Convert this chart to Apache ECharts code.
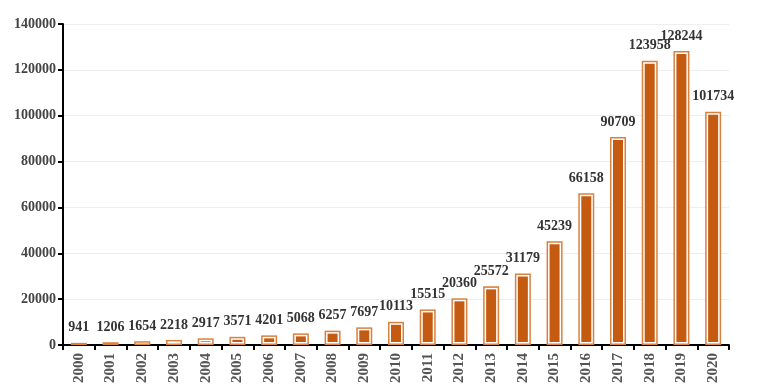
<!DOCTYPE html>
<html><head><meta charset="utf-8">
<script src="https://cdn.jsdelivr.net/npm/echarts@6/dist/echarts.min.js"></script>
<style>html,body{margin:0;padding:0;background:#fff}#c{width:775px;height:391px}</style>
</head><body><div id="c"></div>
<script>
var years = ['2000','2001','2002','2003','2004','2005','2006','2007','2008','2009','2010','2011','2012','2013','2014','2015','2016','2017','2018','2019','2020'];
var counts = [941,1206,1654,2218,2917,3571,4201,5068,6257,7697,10113,15515,20360,25572,31179,45239,66158,90709,123958,128244,101734];
var yTicks = [0,20000,40000,60000,80000,100000,120000,140000];

var chart = echarts.init(document.getElementById('c'));
var font = '"Liberation Serif","Times New Roman",serif';
chart.setOption({
  animation: false,
  grid: {left: 63, right: 46, top: 24, bottom: 46},
  xAxis: {
    type: 'category', data: years,
    axisLine: {lineStyle: {color: '#000', width: 2}},
    axisTick: {show: true, length: 5, lineStyle: {color: '#000', width: 2}},
    axisLabel: {rotate: 90, fontFamily: font, fontWeight: 'bold', fontSize: 15, color: '#555', margin: 8}
  },
  yAxis: {
    type: 'value', min: yTicks[0], max: yTicks[yTicks.length-1], interval: 20000,
    axisLine: {show: true, lineStyle: {color: '#000', width: 2}},
    axisTick: {show: true, length: 5, lineStyle: {color: '#000', width: 2}},
    splitLine: {lineStyle: {color: '#eeeeee', width: 1}},
    axisLabel: {fontFamily: font, fontWeight: 'bold', fontSize: 14, color: '#444', margin: 7,
      formatter: function(v){ return String(v); }}
  },
  series: [{
    type: 'custom',
    data: counts.map(function(v, i){ return [i, v]; }),
    encode: {x: 0, y: 1},
    renderItem: function(params, api) {
      var top = api.coord([api.value(0), api.value(1)]);
      var base = api.coord([api.value(0), 0]);
      var w = 16;
      var x = top[0] - w/2, y = top[1], h = base[1] - top[1];
      var children = [
        {type: 'rect', shape: {x: x, y: y, width: w, height: h}, style: {fill: '#d9813f'}},
      ];
      if (h > 3) children.push({type: 'rect', shape: {x: x+1.5, y: y+1.5, width: w-3, height: h-3}, style: {fill: '#fff'}});
      if (h > 6) children.push({type: 'rect', shape: {x: x+3, y: y+3, width: w-6, height: h-6}, style: {fill: '#c55a11'}});
      return {type: 'group', children: children};
    }
  }, {
    type: 'bar',
    data: counts,
    barWidth: 16,
    barGap: '-100%',
    itemStyle: {color: 'rgba(0,0,0,0)'},
    label: {show: true, position: 'top', distance: 8, fontFamily: font, fontWeight: 'bold', fontSize: 14, color: '#333'},
    z: 5
  }]
});
</script></body></html>
